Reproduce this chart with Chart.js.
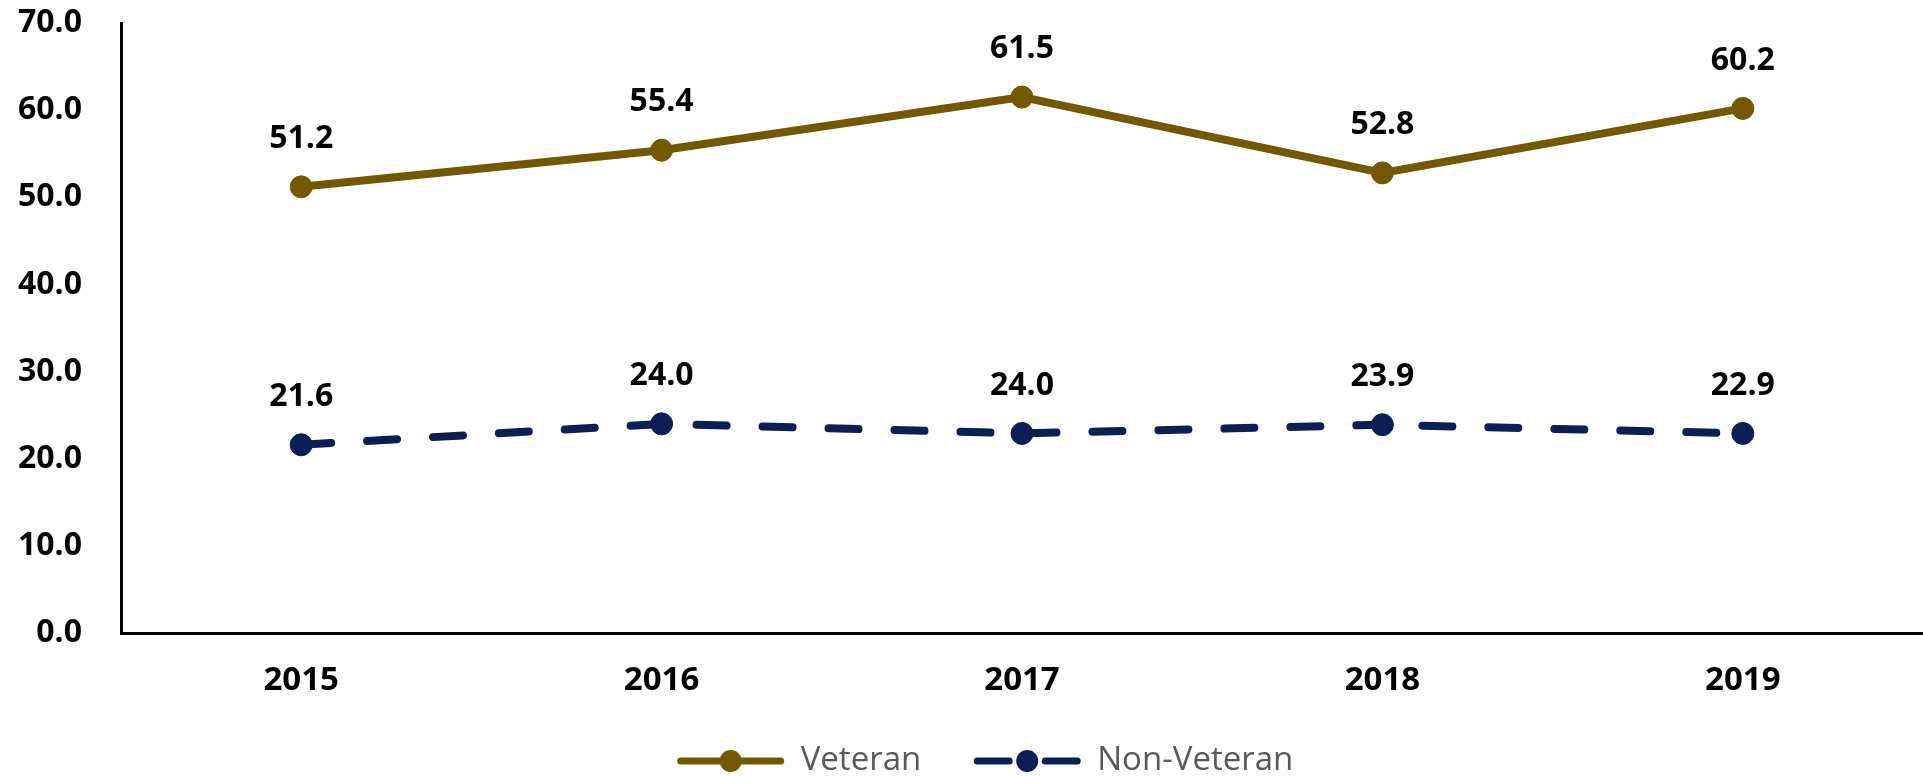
<!DOCTYPE html>
<html>
<head>
<meta charset="utf-8">
<script src="https://cdn.jsdelivr.net/npm/chart.js@4.4.1/dist/chart.umd.min.js"></script>
<style>
  html, body { margin: 0; padding: 0; background: #fff; }
</style>
</head>
<body>
<canvas id="myChart" width="1923" height="776"></canvas>
<script>
// data
const years = ['2015', '2016', '2017', '2018', '2019'];
const veteran = [51.2, 55.4, 61.5, 52.8, 60.2];
const nonVeteran = [21.6, 24.0, 22.9, 23.9, 22.9];
// printed labels (2017 non-veteran point is labelled 24.0 but sits lower)
const veteranLabels = ['51.2', '55.4', '61.5', '52.8', '60.2'];
const nonVeteranLabels = ['21.6', '24.0', '24.0', '23.9', '22.9'];
const yTicks = ['0.0', '10.0', '20.0', '30.0', '40.0', '50.0', '60.0', '70.0'];

const gold = '#735800';
const navy = '#0B1F55';
const fontName = '"Open Sans", "Liberation Sans", sans-serif';

// value labels above each point
const pointLabels = {
  id: 'pointLabels',
  afterDatasetsDraw(chart) {
    const ctx = chart.ctx;
    ctx.save();
    ctx.font = 'bold 32px ' + fontName;
    ctx.fillStyle = '#000';
    ctx.textAlign = 'center';
    ctx.textBaseline = 'middle';
    chart.data.datasets.forEach((ds, i) => {
      chart.getDatasetMeta(i).data.forEach((pt, j) => {
        ctx.fillText(ds.valueLabels[j], pt.x, pt.y - 48);
      });
    });
    ctx.restore();
  }
};

// legend with line + marker samples, like the original
const lineLegend = {
  id: 'lineLegend',
  afterDraw(chart) {
    const ctx = chart.ctx;
    const y = 761;
    const iconW = 108, gapText = 16, gapItem = 52;
    ctx.save();
    ctx.font = '33px ' + fontName;
    const items = chart.data.datasets;
    const widths = items.map(ds => ctx.measureText(ds.label).width);
    let total = gapItem * (items.length - 1);
    widths.forEach(w => { total += iconW + gapText + w; });
    let x = 985 - total / 2;
    items.forEach((ds, i) => {
      ctx.strokeStyle = ds.borderColor;
      ctx.fillStyle = ds.borderColor;
      ctx.lineWidth = 7;
      ctx.lineCap = 'round';
      ctx.beginPath();
      if (ds.borderDash) {
        ctx.moveTo(x + 4, y); ctx.lineTo(x + 36, y);
        ctx.moveTo(x + 72, y); ctx.lineTo(x + 104, y);
      } else {
        ctx.moveTo(x + 4, y); ctx.lineTo(x + iconW - 4, y);
      }
      ctx.stroke();
      ctx.beginPath();
      ctx.arc(x + (ds.borderDash ? 54 : iconW / 2), y, 11, 0, Math.PI * 2);
      ctx.fill();
      ctx.fillStyle = '#595959';
      ctx.textAlign = 'left';
      ctx.textBaseline = 'middle';
      ctx.fillText(ds.label, x + iconW + gapText, y);
      x += iconW + gapText + widths[i] + gapItem;
    });
    ctx.restore();
  }
};

new Chart(document.getElementById('myChart'), {
  type: 'line',
  data: {
    labels: years,
    datasets: [{
      label: 'Veteran',
      data: veteran,
      valueLabels: veteranLabels,
      borderColor: gold,
      backgroundColor: gold,
      borderWidth: 8,
      pointRadius: 11,
      pointBorderWidth: 1,
      pointBackgroundColor: gold,
      pointBorderColor: gold
    }, {
      label: 'Non-Veteran',
      data: nonVeteran,
      valueLabels: nonVeteranLabels,
      borderColor: navy,
      backgroundColor: navy,
      borderWidth: 8,
      borderDash: [30, 36],
      borderCapStyle: 'round',
      pointRadius: 11,
      pointBorderWidth: 1,
      pointBackgroundColor: navy,
      pointBorderColor: navy
    }]
  },
  options: {
    responsive: false,
    animation: false,
    layout: { autoPadding: false, padding: { top: 23, right: 0, bottom: 0, left: 0 } },
    plugins: {
      legend: { display: false },
      tooltip: { enabled: false }
    },
    scales: {
      x: {
        offset: true,
        grid: { display: false, drawTicks: false },
        border: { display: true, color: '#000', width: 3 },
        ticks: {
          color: '#000',
          padding: 28,
          font: { family: fontName, size: 33, weight: 'bold' }
        },
        afterFit(scale) { scale.height = 143; }
      },
      y: {
        min: 0,
        max: 70,
        grid: { display: false, drawTicks: false },
        border: { display: true, color: '#000', width: 3 },
        ticks: {
          stepSize: 10,
          color: '#000',
          padding: 39,
          font: { family: fontName, size: 32, weight: 'bold' },
          callback: (v, i) => yTicks[i]
        },
        afterFit(scale) {
          scale.width = 121;
          // the big label padding should not push the top down
          scale.paddingTop = 20;
          scale.paddingBottom = 20;
        }
      }
    }
  },
  plugins: [pointLabels, lineLegend]
});
</script>
</body>
</html>
